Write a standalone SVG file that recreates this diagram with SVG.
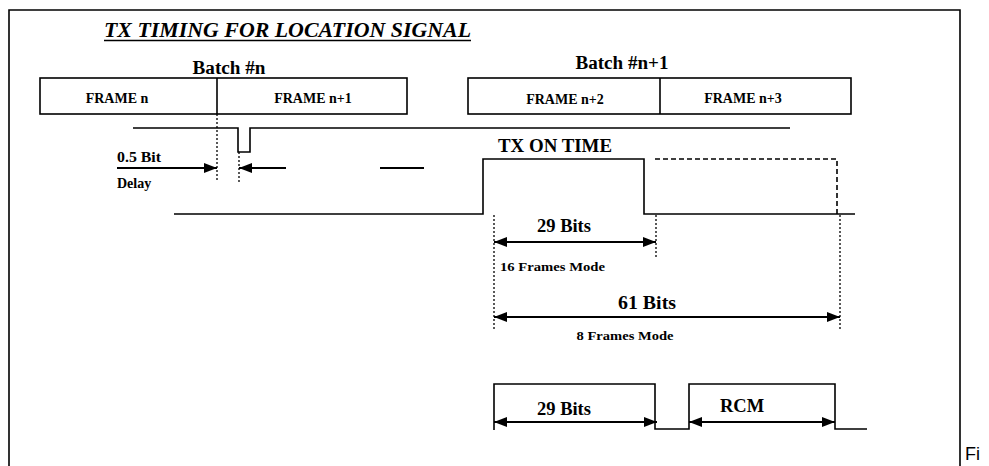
<svg xmlns="http://www.w3.org/2000/svg" width="989" height="466" viewBox="0 0 989 466">
  <defs>
    <style>
      .ln{fill:none;stroke:#000;stroke-width:1.6}
      .dot{fill:none;stroke:#000;stroke-width:1.3;stroke-dasharray:2 2}
      .dash{fill:none;stroke:#000;stroke-width:1.6;stroke-dasharray:5 3}
      .ar{fill:none;stroke:#000;stroke-width:1.8}
      .t{font-family:"Liberation Serif","Times New Roman",serif;font-weight:bold;fill:#000}
    </style>
    <marker id="ah" viewBox="0 0 13 10" refX="13" refY="5" markerWidth="13" markerHeight="10" markerUnits="userSpaceOnUse" orient="auto-start-reverse">
      <path d="M0,0 L13,5 L0,10 Z" fill="#000"/>
    </marker>
  </defs>
  <rect width="989" height="466" fill="#fff"/>
  <g id="frame">
    <path class="ln" d="M9,470 V10 H960 V470"/>
    <text x="965" y="460" font-family="Liberation Sans, Arial, sans-serif" font-size="18" fill="#000">Fi</text>
  </g>
  <g id="title">
    <text class="t" x="104" y="37" font-size="21" font-style="italic" textLength="367" lengthAdjust="spacingAndGlyphs">TX TIMING FOR LOCATION SIGNAL</text>
    <line x1="104" y1="40.5" x2="471" y2="40.5" stroke="#000" stroke-width="1.4"/>
  </g>
  <g id="batch-n">
    <text class="t" x="229" y="74" font-size="18" text-anchor="middle" textLength="73" lengthAdjust="spacingAndGlyphs">Batch #n</text>
    <rect class="ln" x="40" y="78" width="367" height="36"/>
    <line class="ln" x1="217" y1="78" x2="217" y2="114"/>
    <text class="t" x="117" y="103" font-size="14" text-anchor="middle">FRAME n</text>
    <text class="t" x="313" y="103" font-size="14" text-anchor="middle">FRAME n+1</text>
  </g>
  <g id="batch-n1">
    <text class="t" x="622" y="69" font-size="18" text-anchor="middle" textLength="93" lengthAdjust="spacingAndGlyphs">Batch #n+1</text>
    <rect class="ln" x="468" y="78" width="383" height="36"/>
    <line class="ln" x1="660" y1="78" x2="660" y2="114"/>
    <text class="t" x="565" y="104" font-size="14" text-anchor="middle">FRAME n+2</text>
    <text class="t" x="743" y="103" font-size="14" text-anchor="middle">FRAME n+3</text>
  </g>
  <g id="signal-sync">
    <path class="ln" d="M133,128 H238 V152 H250 V128 H790"/>
    <line class="dot" x1="217" y1="114" x2="217" y2="180"/>
    <line class="dot" x1="239" y1="152" x2="239" y2="184"/>
    <text class="t" x="117" y="162" font-size="14" textLength="44" lengthAdjust="spacingAndGlyphs">0.5 Bit</text>
    <text class="t" x="117" y="188" font-size="14">Delay</text>
  </g>
  <g id="signal-tx">
    <path class="ln" d="M174,214 H483 V159 H644 V214 H855"/>
    <path class="dash" d="M655,159 H837 V214"/>
    <text class="t" x="555" y="152" font-size="18.5" text-anchor="middle" textLength="114" lengthAdjust="spacingAndGlyphs">TX ON TIME</text>
    <line class="dot" x1="494" y1="215" x2="494" y2="329"/>
    <line class="dot" x1="656" y1="215" x2="656" y2="257"/>
    <line class="dot" x1="840" y1="215" x2="840" y2="329"/>
    <text class="t" x="564" y="232" font-size="18.5" text-anchor="middle">29 Bits</text>
    <text class="t" x="500" y="271" font-size="13" textLength="105" lengthAdjust="spacingAndGlyphs">16 Frames Mode</text>
    <text class="t" x="647" y="309" font-size="19" text-anchor="middle" textLength="58" lengthAdjust="spacingAndGlyphs">61 Bits</text>
    <text class="t" x="625" y="340" font-size="13" text-anchor="middle" textLength="97" lengthAdjust="spacingAndGlyphs">8 Frames Mode</text>
  </g>
  <g id="signal-rcm">
    <path class="ln" d="M494,430 V384 H655 V429 H689 V384 H835 V429 H867"/>
    <text class="t" x="564" y="415" font-size="18.5" text-anchor="middle">29 Bits</text>
    <text class="t" x="742" y="412" font-size="18.5" text-anchor="middle">RCM</text>
  </g>
  <g id="connectors">
    <line class="ar" x1="117" y1="168" x2="217" y2="168" marker-end="url(#ah)"/>
    <line class="ar" x1="286" y1="168" x2="239" y2="168" marker-end="url(#ah)"/>
    <line class="ar" x1="380" y1="168" x2="424" y2="168"/>
    <line class="ar" x1="494" y1="242" x2="656" y2="242" marker-start="url(#ah)" marker-end="url(#ah)"/>
    <line class="ar" x1="494" y1="317" x2="840" y2="317" marker-start="url(#ah)" marker-end="url(#ah)"/>
    <line class="ar" x1="494" y1="422" x2="657" y2="422" marker-start="url(#ah)" marker-end="url(#ah)"/>
    <line class="ar" x1="689" y1="422" x2="835" y2="422" marker-start="url(#ah)" marker-end="url(#ah)"/>
  </g>
</svg>
